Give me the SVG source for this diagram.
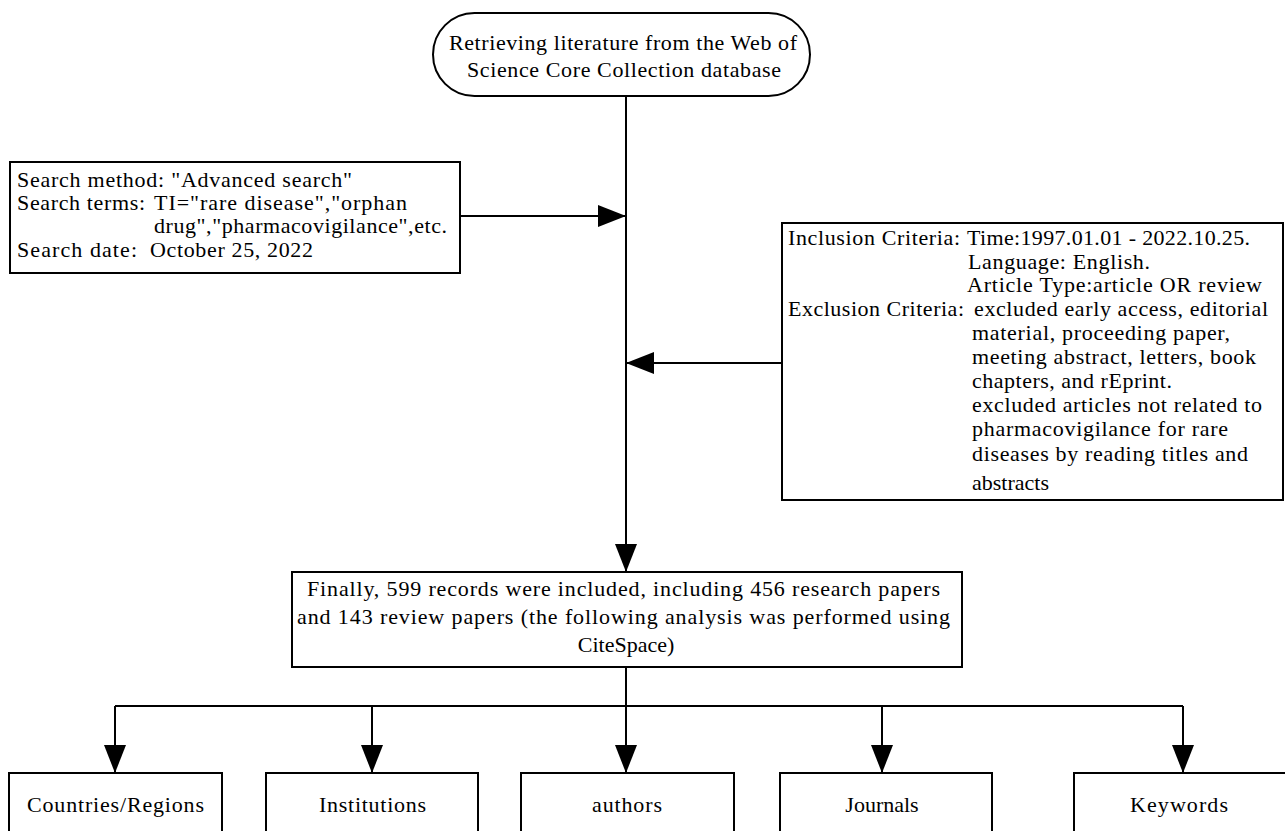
<svg xmlns="http://www.w3.org/2000/svg" width="1285" height="831" viewBox="0 0 1285 831">
<style>
.box{fill:#fff;stroke:#000;stroke-width:2}
.ln{fill:none;stroke:#000;stroke-width:2}
text{font-family:"Liberation Serif","Times New Roman",serif;font-size:22px;fill:#000}
.c{text-anchor:middle}
</style>
<defs>
<marker id="ah" markerWidth="28" markerHeight="22" refX="28" refY="11" orient="auto" markerUnits="userSpaceOnUse">
<path d="M0,0 L28,11 L0,22 Z" fill="#000"/>
</marker>
</defs>
<rect width="1285" height="831" fill="#fff"/>
<g id="connectors">
<path class="ln" d="M626,96 V572" marker-end="url(#ah)"/>
<path class="ln" d="M460,216 H626" marker-end="url(#ah)"/>
<path class="ln" d="M782,363 H626" marker-end="url(#ah)"/>
<path class="ln" d="M626,667 V706 M115,706 H1183"/>
<path class="ln" d="M115,706 V773" marker-end="url(#ah)"/>
<path class="ln" d="M372,706 V773" marker-end="url(#ah)"/>
<path class="ln" d="M626,706 V773" marker-end="url(#ah)"/>
<path class="ln" d="M882,706 V773" marker-end="url(#ah)"/>
<path class="ln" d="M1183,706 V773" marker-end="url(#ah)"/>
</g>
<g id="start">
<rect class="box" x="433" y="13" width="377" height="83" rx="41.5" ry="41.5"/>
<text x="449" y="50" textLength="348" lengthAdjust="spacing">Retrieving literature from the Web of</text>
<text x="467" y="77" textLength="314" lengthAdjust="spacing">Science Core Collection database</text>
</g>
<g id="search">
<rect class="box" x="10" y="162" width="450" height="111"/>
<text x="17" y="187" textLength="335" lengthAdjust="spacing">Search method: "Advanced search"</text>
<text x="17" y="210" textLength="128" lengthAdjust="spacing">Search terms:</text>
<text x="154" y="210" textLength="253" lengthAdjust="spacing">TI="rare disease","orphan</text>
<text x="154" y="233" textLength="293" lengthAdjust="spacing">drug","pharmacovigilance",etc.</text>
<text x="17" y="257" textLength="120" lengthAdjust="spacing">Search date:</text>
<text x="150" y="257" textLength="163" lengthAdjust="spacing">October 25, 2022</text>
</g>
<g id="criteria">
<rect class="box" x="782" y="223" width="501" height="277"/>
<text x="788" y="245" textLength="172" lengthAdjust="spacing">Inclusion Criteria:</text>
<text x="967" y="245" textLength="283" lengthAdjust="spacing">Time:1997.01.01 - 2022.10.25.</text>
<text x="968" y="269" textLength="182" lengthAdjust="spacing">Language: English.</text>
<text x="967" y="292" textLength="295" lengthAdjust="spacing">Article Type:article OR review</text>
<text x="788" y="316" textLength="176" lengthAdjust="spacing">Exclusion Criteria:</text>
<text x="974" y="316" textLength="294" lengthAdjust="spacing">excluded early access, editorial</text>
<text x="972" y="340" textLength="258" lengthAdjust="spacing">material, proceeding paper,</text>
<text x="972" y="364" textLength="284" lengthAdjust="spacing">meeting abstract, letters, book</text>
<text x="972" y="388" textLength="200" lengthAdjust="spacing">chapters, and rEprint.</text>
<text x="972" y="412" textLength="290" lengthAdjust="spacing">excluded articles not related to</text>
<text x="972" y="436" textLength="256" lengthAdjust="spacing">pharmacovigilance for rare</text>
<text x="972" y="461" textLength="276" lengthAdjust="spacing">diseases by reading titles and</text>
<text x="972" y="490">abstracts</text>
</g>
<g id="final">
<rect class="box" x="292" y="572" width="670" height="95"/>
<text x="307" y="596" textLength="633" lengthAdjust="spacing">Finally, 599 records were included, including 456 research papers</text>
<text x="297" y="624" textLength="653" lengthAdjust="spacing">and 143 review papers  (the following analysis was performed using</text>
<text class="c" x="626" y="652">CiteSpace)</text>
</g>
<g id="countries">
<rect class="box" x="9" y="773" width="213" height="70"/>
<text x="27" y="812" textLength="177" lengthAdjust="spacing">Countries/Regions</text>
</g>
<g id="institutions">
<rect class="box" x="266" y="773" width="212" height="70"/>
<text x="319" y="812" textLength="107" lengthAdjust="spacing">Institutions</text>
</g>
<g id="authors">
<rect class="box" x="521" y="773" width="213" height="70"/>
<text x="592" y="812" textLength="70" lengthAdjust="spacing">authors</text>
</g>
<g id="journals">
<rect class="box" x="780" y="773" width="212" height="70"/>
<text class="c" x="882" y="812">Journals</text>
</g>
<g id="keywords">
<rect class="box" x="1074" y="773" width="220" height="70"/>
<text x="1130" y="812" textLength="98" lengthAdjust="spacing">Keywords</text>
</g>
</svg>
